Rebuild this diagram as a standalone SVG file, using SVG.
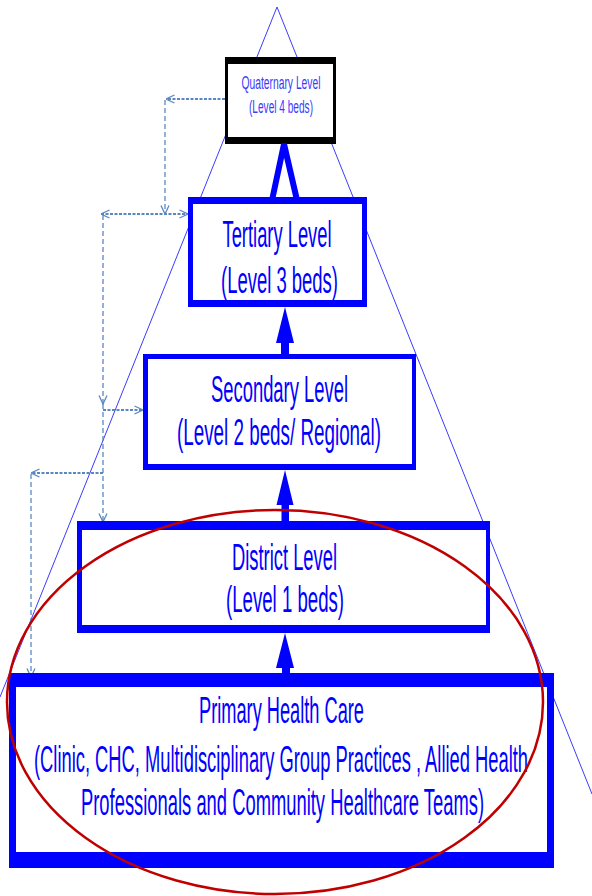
<svg xmlns="http://www.w3.org/2000/svg" width="592" height="896" viewBox="0 0 592 896">
  <defs>
    <style>
      .tri { stroke: #3b3bff; stroke-width: 1; fill: none; }
      .dh { stroke: #5b87c0; stroke-width: 2; stroke-dasharray: 3 1.5; fill: none; }
      .dv { stroke: #5b87c0; stroke-width: 1.3; stroke-dasharray: 5 3; fill: none; }
      .border { fill: #0000ff; }
      .qborder { fill: #000000; }
      .inner { fill: #ffffff; }
      .lbl { font-family: "Liberation Sans", Arial, sans-serif; font-size: 37px; fill: #0000ff; text-anchor: middle; }
      .qlbl { font-family: "Liberation Sans", Arial, sans-serif; font-size: 18px; fill: #3a3aff; text-anchor: middle; }
      .sarrow { fill: #0000ff; }
    </style>
    <marker id="oa" viewBox="0 0 10 10" refX="9.5" refY="5" markerWidth="10" markerHeight="10" markerUnits="userSpaceOnUse" orient="auto-start-reverse">
      <path d="M1,1 L9.5,5 L1,9" fill="none" stroke="#5b87c0" stroke-width="1.3"/>
    </marker>
  </defs>
  <rect width="592" height="896" fill="#ffffff"/>

  <g id="pyramid-outline">
    <line class="tri" x1="277" y1="7" x2="0" y2="697"/>
    <line class="tri" x1="277" y1="7" x2="592" y2="794"/>
  </g>

  <g id="connectors">
    <line class="dh" x1="225" y1="99" x2="166" y2="99" marker-end="url(#oa)"/>
    <line class="dv" x1="165" y1="100" x2="165" y2="214" marker-end="url(#oa)"/>
    <line class="dh" x1="101" y1="214" x2="188" y2="214" marker-start="url(#oa)" marker-end="url(#oa)"/>
    <line class="dv" x1="103" y1="215" x2="103" y2="404" marker-end="url(#oa)"/>
    <line class="dh" x1="103" y1="410" x2="143" y2="410" marker-end="url(#oa)"/>
    <line class="dv" x1="103" y1="404" x2="103" y2="522" marker-end="url(#oa)"/>
    <line class="dh" x1="103" y1="473" x2="31" y2="473" marker-end="url(#oa)"/>
    <line class="dv" x1="31" y1="474" x2="31" y2="677" marker-end="url(#oa)"/>
  </g>

  <g id="quaternary">
    <rect class="qborder" x="225" y="57" width="111" height="87"/>
    <rect class="inner" x="228" y="64" width="105" height="73"/>
    <text class="qlbl" x="281" y="89" textLength="79" lengthAdjust="spacingAndGlyphs">Quaternary Level</text>
    <text class="qlbl" x="281" y="113" textLength="64" lengthAdjust="spacingAndGlyphs">(Level 4 beds)</text>
  </g>

  <g id="tertiary">
    <rect class="border" x="188" y="197" width="179" height="110"/>
    <rect class="inner" x="193" y="204" width="169" height="96"/>
    <text class="lbl" x="277" y="247" textLength="109" lengthAdjust="spacingAndGlyphs">Tertiary Level</text>
    <text class="lbl" x="279.5" y="293" textLength="117" lengthAdjust="spacingAndGlyphs">(Level 3 beds)</text>
  </g>

  <g id="secondary">
    <rect class="border" x="143" y="354" width="273" height="116"/>
    <rect class="inner" x="148" y="359" width="264" height="105"/>
    <text class="lbl" x="279.5" y="402" textLength="137" lengthAdjust="spacingAndGlyphs">Secondary Level</text>
    <text class="lbl" x="279" y="445" textLength="204" lengthAdjust="spacingAndGlyphs">(Level 2 beds/ Regional)</text>
  </g>

  <g id="district">
    <rect class="border" x="77" y="521" width="413" height="112"/>
    <rect class="inner" x="82" y="530" width="404" height="95"/>
    <text class="lbl" x="284.5" y="570" textLength="105" lengthAdjust="spacingAndGlyphs">District Level</text>
    <text class="lbl" x="285" y="612" textLength="118" lengthAdjust="spacingAndGlyphs">(Level 1 beds)</text>
  </g>

  <g id="primary">
    <rect class="border" x="9" y="673" width="545" height="195"/>
    <rect class="inner" x="16" y="687" width="531" height="165"/>
    <text class="lbl" x="281.5" y="723" textLength="165" lengthAdjust="spacingAndGlyphs">Primary Health Care</text>
    <text class="lbl" x="281" y="772" textLength="494" lengthAdjust="spacingAndGlyphs">(Clinic, CHC, Multidisciplinary Group Practices , Allied Health</text>
    <text class="lbl" x="282.5" y="815" textLength="403" lengthAdjust="spacingAndGlyphs">Professionals and Community Healthcare Teams)</text>
  </g>

  <g id="level-arrows">
    <polyline points="272.5,198 284,144 296.5,198" fill="none" stroke="#0000ff" stroke-width="6"/>
    <path class="sarrow" d="M285,307 L294,343 L289,343 L289,354 L281,354 L281,343 L276,343 Z"/>
    <path class="sarrow" d="M285,470 L293.5,505 L289,505 L289,521 L281.5,521 L281.5,505 L276.5,505 Z"/>
    <path class="sarrow" d="M285,633 L294,668 L290,668 L290,673 L282,673 L282,668 L276,668 Z"/>
  </g>

  <g id="highlight-ellipse">
    <ellipse cx="275" cy="702" rx="268" ry="192" fill="none" stroke="#c00000" stroke-width="2.5"/>
  </g>
</svg>
